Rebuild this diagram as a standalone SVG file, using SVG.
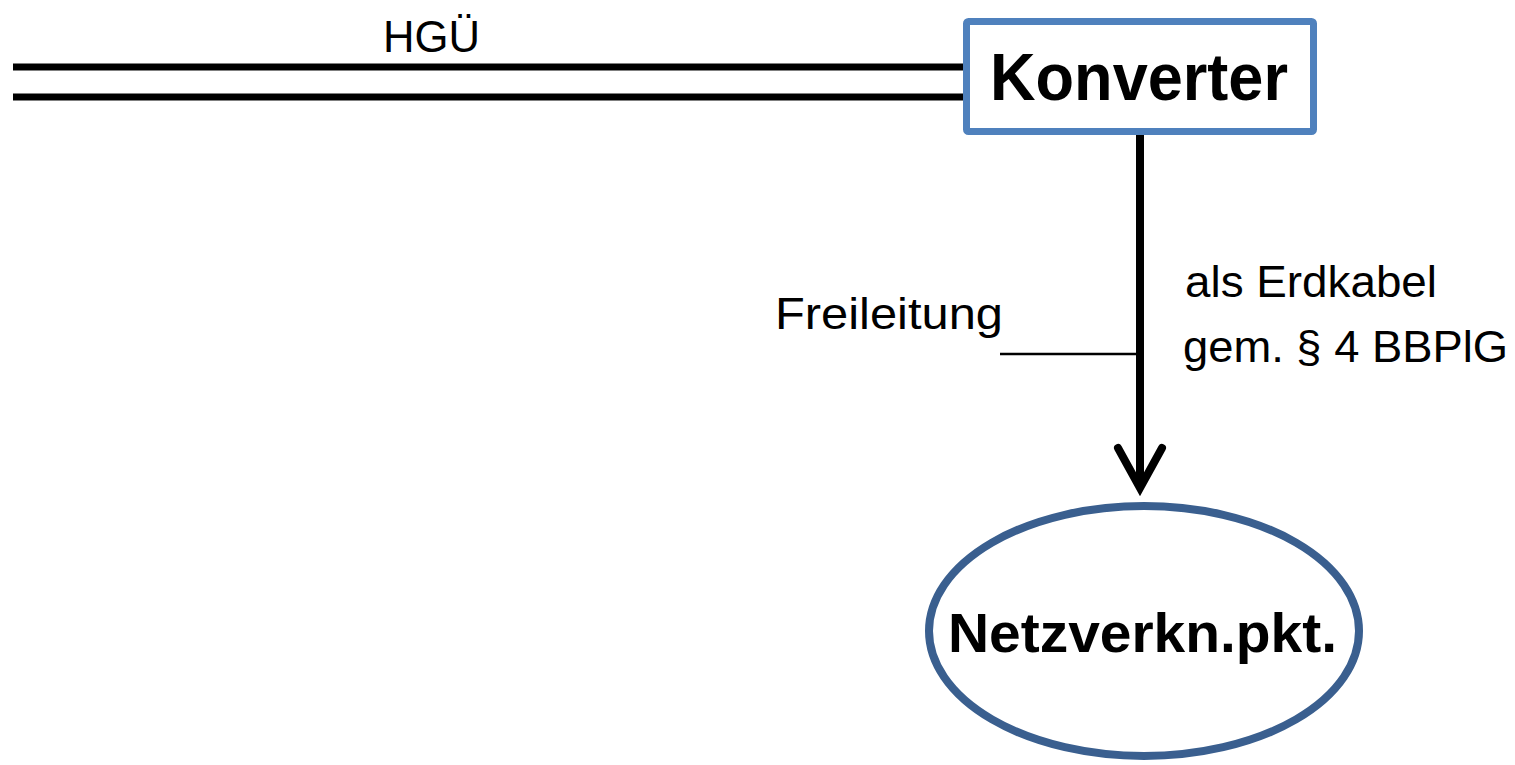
<svg xmlns="http://www.w3.org/2000/svg" width="1515" height="765" viewBox="0 0 1515 765">
  <style>
    .lbl { font-family: "Liberation Sans", Arial, sans-serif; font-size: 44px; fill: #000; }
    .node { font-family: "Liberation Sans", Arial, sans-serif; font-weight: bold; fill: #000; }
    .wire { stroke: #000; fill: none; }
  </style>
  <rect width="1515" height="765" fill="#fff"/>
  <g id="connectors">
    <line class="wire" x1="13" y1="67" x2="965" y2="67" stroke-width="7"/>
    <line class="wire" x1="13" y1="97" x2="965" y2="97" stroke-width="7"/>
    <line class="wire" x1="1140" y1="135" x2="1140" y2="486" stroke-width="8"/>
    <polyline class="wire" points="1118,448 1140,488 1162,448" stroke-width="8" stroke-linecap="round" stroke-linejoin="miter"/>
    <line class="wire" x1="1000" y1="354" x2="1136" y2="354" stroke-width="2.5"/>
  </g>
  <g id="labels">
    <text class="lbl" x="383" y="52" textLength="97" lengthAdjust="spacingAndGlyphs">HGÜ</text>
    <text class="lbl" x="775" y="329" textLength="228" lengthAdjust="spacingAndGlyphs">Freileitung</text>
    <text class="lbl" x="1185" y="297" textLength="252" lengthAdjust="spacingAndGlyphs">als Erdkabel</text>
    <text class="lbl" x="1183" y="362" textLength="325" lengthAdjust="spacingAndGlyphs">gem. § 4 BBPlG</text>
  </g>
  <g id="konverter">
    <rect x="966.5" y="21.5" width="347" height="110" rx="2" fill="#fff" stroke="#4F81BD" stroke-width="7"/>
    <text class="node" x="990" y="100" font-size="66" textLength="298" lengthAdjust="spacingAndGlyphs">Konverter</text>
  </g>
  <g id="netzverknuepfungspunkt">
    <ellipse cx="1144" cy="631" rx="215" ry="125" fill="#fff" stroke="#3A5F8F" stroke-width="8"/>
    <text class="node" x="948" y="652" font-size="56" textLength="389" lengthAdjust="spacingAndGlyphs">Netzverkn.pkt.</text>
  </g>
</svg>
